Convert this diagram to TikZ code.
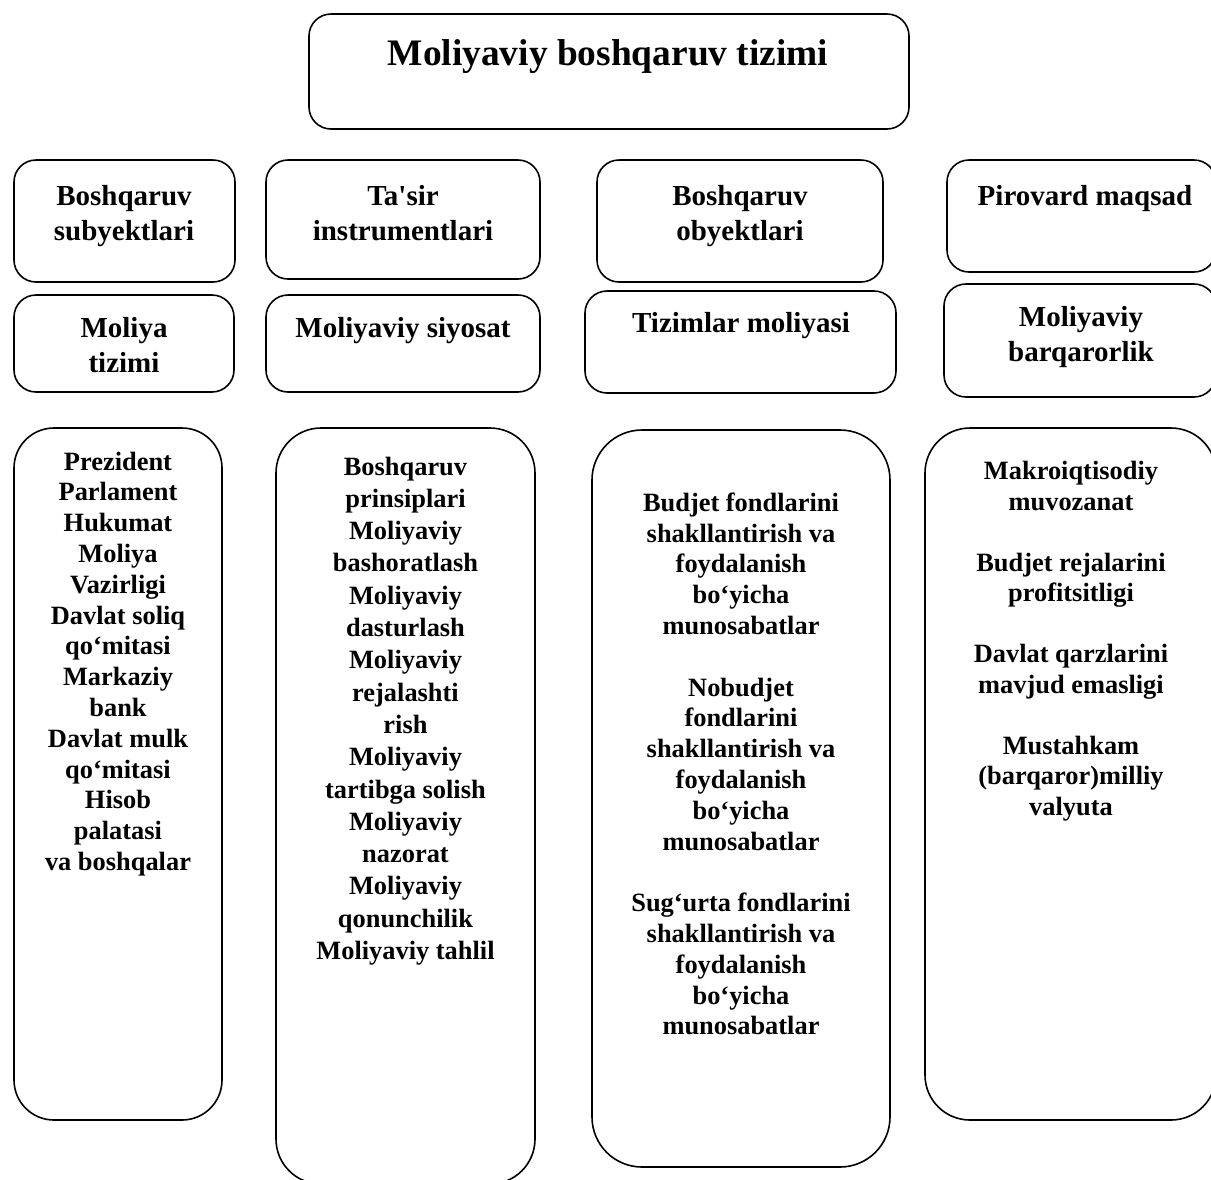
\documentclass[tikz,border=0pt]{standalone}
\usepackage{fontspec}
\setmainfont{Liberation Serif}
\begin{document}
\begin{tikzpicture}[x=1pt,y=-1pt,
  box/.style={draw, line width=1.6pt, inner sep=0pt, rounded corners=#1},
  box/.default=22pt,
  ttl/.style={inner sep=0pt, align=center, font=\fontsize{37.4}{43}\selectfont\bfseries},
  hdr/.style={inner sep=0pt, align=center, font=\fontsize{29}{35}\selectfont\bfseries},
  body/.style={inner sep=0pt, align=center, font=\fontsize{26.4}{30.8}\selectfont\bfseries},
  bodyj/.style={inner sep=0pt, align=center, font=\fontsize{26.4}{32.3}\selectfont\bfseries},
  bodyl/.style={inner sep=0pt, align=center, font=\fontsize{26.4}{30.5}\selectfont\bfseries}]
\useasboundingbox (0,0) rectangle (1211,1179);
\clip (0,0) rectangle (1211,1179);
% title
\node[box, minimum width=600pt, minimum height=115pt] (T) at (609,71.5) {};
\node[ttl] (Tt) at (608,57) {Moliyaviy boshqaruv tizimi};
% row 1
\node[box, minimum width=221pt, minimum height=122pt] (A) at (124.5,221) {};
\node[hdr] (At) at (124,216.5) {Boshqaruv\\subyektlari};
\node[box, minimum width=274pt, minimum height=119pt] (B) at (403,219.5) {};
\node[hdr] (Bt) at (403,213) {Ta\textquotesingle sir\\instrumentlari};
\node[box, minimum width=286pt, minimum height=122pt] (C) at (740,221) {};
\node[hdr] (Ct) at (740,216) {Boshqaruv\\obyektlari};
\node[box, minimum width=269pt, minimum height=112pt] (D) at (1081.5,216) {};
\node[hdr] (Dt) at (1085,199) {Pirovard maqsad};
% row 2
\node[box, minimum width=220pt, minimum height=97pt] (E) at (124,343.5) {};
\node[hdr] (Et) at (124,345) {Moliya\\tizimi};
\node[box, minimum width=274pt, minimum height=97pt] (F) at (403,343.5) {};
\node[hdr] (Ft) at (403,331) {Moliyaviy siyosat};
\node[box, minimum width=311pt, minimum height=102pt] (G) at (740.5,342) {};
\node[hdr] (Gt) at (741,326) {Tizimlar moliyasi};
\node[box, minimum width=272pt, minimum height=113pt] (H) at (1080,340.5) {};
\node[hdr] (Ht) at (1081,337.5) {Moliyaviy\\barqarorlik};
% row 3
\node[box=40pt, minimum width=208pt, minimum height=692pt] (I) at (118,774) {};
\node[body] (It) at (118,664) {Prezident\\Parlament\\Hukumat\\Moliya\\Vazirligi\\Davlat soliq\\qo‘mitasi\\Markaziy\\bank\\Davlat mulk\\qo‘mitasi\\Hisob\\palatasi\\va boshqalar};
\node[box=45pt, minimum width=259pt, minimum height=756pt] (J) at (405.5,806) {};
\node[bodyj] (Jt) at (405.5,711) {Boshqaruv\\prinsiplari\\Moliyaviy\\bashoratlash\\Moliyaviy\\dasturlash\\Moliyaviy\\rejalashti\\rish\\Moliyaviy\\tartibga solish\\Moliyaviy\\nazorat\\Moliyaviy\\qonunchilik\\Moliyaviy tahlil};
\node[box=50pt, minimum width=298pt, minimum height=737pt] (K) at (741,798.5) {};
\node[body] (Kt) at (741,764) {Budjet fondlarini\\shakllantirish va\\foydalanish\\bo‘yicha\\munosabatlar\\[30.8pt]Nobudjet\\fondlarini\\shakllantirish va\\foydalanish\\bo‘yicha\\munosabatlar\\[30.8pt]Sug‘urta fondlarini\\shakllantirish va\\foydalanish\\bo‘yicha\\munosabatlar};
\node[box=45pt, minimum width=291pt, minimum height=692pt] (L) at (1070.5,774) {};
\node[bodyl] (Lt) at (1071,641) {Makroiqtisodiy\\muvozanat\\[30.5pt]Budjet rejalarini\\profitsitligi\\[30.5pt]Davlat qarzlarini\\mavjud emasligi\\[30.5pt]Mustahkam\\(barqaror)milliy\\valyuta};
\end{tikzpicture}
\end{document}
